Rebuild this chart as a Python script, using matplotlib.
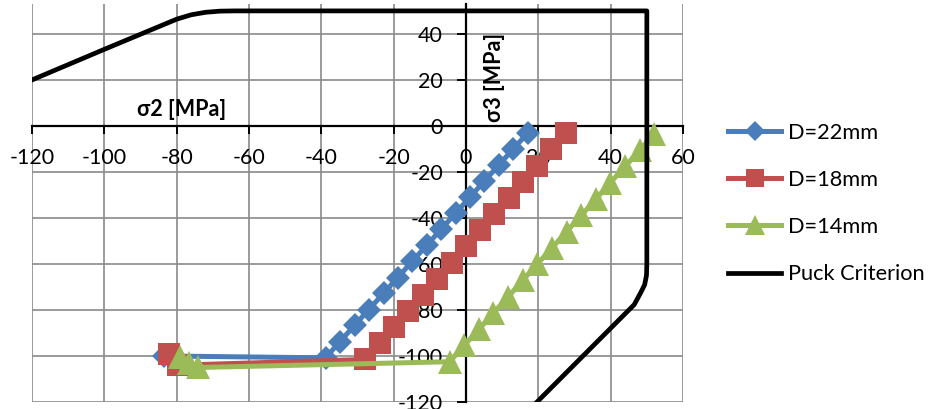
import matplotlib
matplotlib.use("Agg")
import matplotlib.pyplot as plt

plt.rcParams['font.family'] = ['Lato', 'Noto Sans', 'DejaVu Sans']
plt.rcParams['axes.unicode_minus'] = False

# ---------------- data ----------------
s2_22 = [-83.5, -38.8, -34.9, -30.8, -26.9, -22.8, -18.9, -14.8, -10.9, -6.8, -2.9, 1.2, 5.1, 9.2, 13.1, 17.2]
s3_22 = [-100.0, -100.8, -93.8, -86.7, -79.8, -72.8, -65.9, -58.8, -51.9, -44.8, -37.9, -30.8, -23.9, -16.8, -9.9, -2.9]

s2_18 = [-82.0, -79.5, -27.8, -23.8, -19.9, -15.9, -12.0, -8.0, -4.0, -0.1, 3.9, 7.8, 11.8, 15.7, 19.7, 23.6, 27.6]
s3_18 = [-99.0, -104.0, -101.5, -94.5, -87.5, -80.4, -73.4, -66.4, -59.4, -52.4, -45.3, -38.3, -31.3, -24.3, -17.2, -10.2, -3.2]

s2_14 = [-79.0, -76.5, -74.0, -4.5, -0.5, 3.6, 7.6, 11.7, 15.7, 19.7, 23.8, 27.8, 31.9, 35.9, 39.9, 44.0, 48.0, 52.0]
s3_14 = [-100.5, -103.0, -105.0, -102.5, -95.4, -88.4, -81.3, -74.2, -67.1, -60.1, -53.0, -45.9, -38.9, -31.8, -24.7, -17.6, -10.6, -3.5]

puck_s2 = [-120, -100, -80, -76, -72, -68, -64, 50, 50, 49.9, 49.4, 48.3, 46.5, 19]
puck_s3 = [20, 33.3, 46.4, 48.3, 49.4, 49.9, 50, 50, -60, -65, -69, -72.5, -77.7, -121]

labels = ["D=22mm", "D=18mm", "D=14mm", "Puck Criterion"]
colors = ["#4A7EBB", "#C0504D", "#9BBB59", "#000000"]
x_ticks = [-120, -100, -80, -60, -40, -20, 0, 20, 40, 60]
y_ticks = [-120, -100, -80, -60, -40, -20, 0, 20, 40]

# ---------------- figure ----------------
fig = plt.figure(figsize=(9.31, 4.09), dpi=100)
ax = fig.add_axes([32 / 931, 1 - 402 / 409, (683 - 32) / 931, (402 - 4) / 409])

ax.plot(s2_22, s3_22, color=colors[0], lw=3.6, marker='D', ms=12, mew=0, label=labels[0], zorder=3)
ax.plot(s2_18, s3_18, color=colors[1], lw=3.6, marker='s', ms=15.5, mew=0, label=labels[1], zorder=4)
ax.plot(s2_14, s3_14, color=colors[2], lw=3.6, marker='^', ms=17, mew=0, label=labels[2], zorder=5)
ax.plot(puck_s2, puck_s3, color=colors[3], lw=3.4, label=labels[3], zorder=6,
        solid_joinstyle='round')

ax.set_xlim(-120, 60)
ax.set_ylim(-120, 53)
ax.set_xticks(x_ticks)
ax.set_yticks(y_ticks)
ax.grid(True, color='#8a8a8a', lw=1.2)
ax.set_axisbelow(True)

for s in ['top', 'right']:
    ax.spines[s].set_visible(False)
ax.spines['left'].set_position(('data', 0))
ax.spines['bottom'].set_position(('data', 0))
for s in ['left', 'bottom']:
    ax.spines[s].set_linewidth(1.6)
    ax.spines[s].set_color('black')
    ax.spines[s].set_zorder(2)

ax.tick_params(axis='x', direction='out', length=6, width=1.4, pad=10, labelsize=15.5)
ax.tick_params(axis='y', direction='out', length=6.5, width=1.4, pad=10, labelsize=15.5)

ax.set_xlabel("σ2 [MPa]", fontsize=15.5, fontweight='bold', va='center', ha='center')
ax.xaxis.set_label_coords(-78.7, 7.0, transform=ax.transData)
ax.set_ylabel("σ3 [MPa]", fontsize=15.5, fontweight='bold', rotation=90,
              va='center', ha='center', rotation_mode='anchor')
ax.yaxis.set_label_coords(8.0, 20.9, transform=ax.transData)

leg = ax.legend(loc='center left', bbox_to_anchor=(728 / 931, 1 - 203.5 / 409),
                bbox_transform=fig.transFigure, frameon=False, borderpad=0,
                borderaxespad=0, fontsize=15.7, handlelength=2.45, handletextpad=0.3,
                labelspacing=1.25, numpoints=1, markerscale=0.85)

fig.savefig("out.png", dpi=100, facecolor='white')
